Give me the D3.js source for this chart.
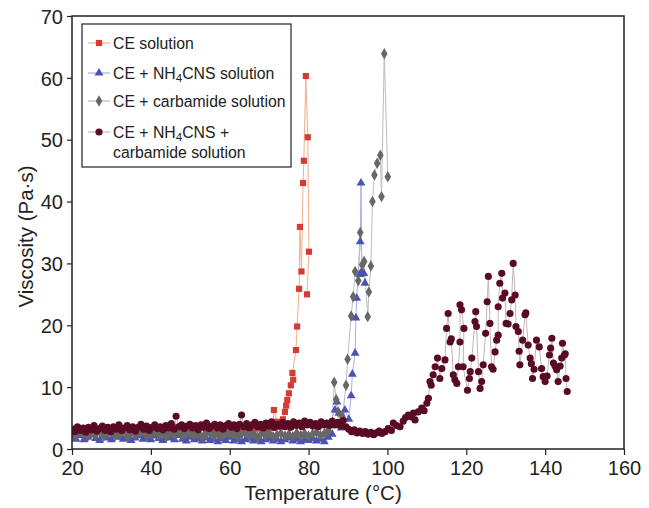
<!DOCTYPE html>
<html>
<head>
<meta charset="utf-8">
<script src="https://cdn.jsdelivr.net/npm/d3@7"></script>
<style>
  html, body { margin: 0; padding: 0; background: #fff; }
  svg { display: block; font-family: "Liberation Sans", Arial, sans-serif; }
</style>
</head>
<body>
<svg id="chart" width="649" height="508"></svg>
<script>
// Viscosity vs temperature, [temperature °C, viscosity Pa·s]
const ceSolution = [
  [20,2.9],[21,3.3],[22,2.6],[23,3.1],[24,3.4],[25,2.8],[26,3.2],[27,2.7],[28,3.5],[29,3.0],
  [30,2.8],[31,3.3],[32,3.6],[33,2.9],[34,3.1],[35,2.7],[36,3.4],[37,3.0],[38,3.2],[39,2.8],
  [40,3.5],[41,3.1],[42,2.9],[43,3.3],[44,2.7],[45,3.2],[46,3.6],[47,2.9],[48,3.1],[49,3.4],
  [50,2.8],[51,3.2],[52,3.0],[53,3.5],[54,2.9],[55,3.3],[56,3.1],[57,2.7],[58,3.4],[59,3.0],
  [60,3.6],[61,3.2],[62,2.9],[63,3.4],[64,3.1],[65,3.7],[66,3.0],[67,3.3],[68,3.5],[69,3.1],
  [70,3.8],[71,3.4],[71.2,6.3],[72,4.4],[72.8,3.6],[73.5,4.8],[74,6.0],[74.3,7.0],[74.6,7.9],
  [75,9.0],[75.5,10.3],[76.1,11.2],[75.9,12.3],[76.8,16.0],[77.1,19.8],[77.6,25.9],[77.8,35.9],
  [78.2,28.7],[78.6,43.0],[78.8,46.6],[79.3,60.3],[79.8,50.4],[80.1,31.9],[79.6,25.0]
];

const ceNH4CNS = [
  [20,2.0],[21,1.6],[22,2.2],[23,1.5],[24,1.9],[25,2.3],[26,1.7],[27,1.4],[28,2.1],[29,1.8],
  [30,1.5],[31,2.2],[32,1.9],[33,1.6],[34,2.0],[35,1.4],[36,1.8],[37,2.2],[38,1.6],[39,1.9],
  [40,1.5],[41,2.1],[42,1.7],[43,1.4],[44,2.0],[45,1.8],[46,1.5],[47,2.2],[48,1.6],[49,1.3],
  [50,1.9],[51,1.5],[52,1.7],[53,1.3],[54,1.8],[55,1.4],[56,1.6],[57,1.2],[58,1.7],[59,1.4],
  [60,1.9],[61,1.3],[62,1.6],[63,1.2],[64,1.5],[65,1.8],[66,1.3],[67,1.6],[68,1.2],[69,1.5],
  [70,1.7],[71,1.3],[72,1.6],[73,1.2],[74,1.5],[75,1.8],[76,1.3],[77,1.6],[78,1.2],[79,1.5],
  [80,1.4],[81,1.7],[82,1.3],[83,1.6],[84,1.2],[85,1.9],[86,2.4],[84.6,2.6],[86.7,6.3],
  [87.2,7.6],[87.7,5.8],[88.3,3.4],[89.2,6.3],[90.2,4.8],[90.8,8.6],[91.1,12.1],[91.8,15.5],
  [92.0,21.2],[92.2,24.4],[93.1,33.5],[93.3,43.0],[93.5,28.7],[93.0,28.2],[94.0,28.4],[94.3,26.8]
];

const ceCarbamide = [
  [20,2.5],[21,2.2],[22,2.8],[23,2.4],[24,2.0],[25,2.6],[26,2.3],[27,2.9],[28,2.1],[29,2.5],
  [30,2.7],[31,2.2],[32,2.4],[33,2.8],[34,2.0],[35,2.6],[36,2.3],[37,2.5],[38,2.9],[39,2.1],
  [40,2.4],[41,2.7],[42,2.2],[43,2.5],[44,2.0],[45,2.6],[46,2.3],[47,2.8],[48,2.1],[49,2.4],
  [50,2.6],[51,2.2],[52,2.5],[53,1.9],[54,2.3],[55,2.7],[56,2.1],[57,2.4],[58,2.0],[59,2.6],
  [60,2.3],[61,2.5],[62,2.0],[63,2.4],[64,2.7],[65,2.1],[66,2.4],[67,1.9],[68,2.5],[69,2.2],
  [70,2.6],[71,2.0],[72,2.3],[73,2.5],[74,2.1],[75,2.4],[76,2.0],[77,2.6],[78,2.2],[79,2.5],
  [80,2.1],[81,2.4],[82,2.7],[83,2.2],[84,2.5],[85,3.0],[86,4.2],[86.5,10.8],[87,8.0],
  [87.5,6.0],[88,4.0],[88.6,5.2],[89.5,10.3],[89.9,14.5],[90.8,21.5],[91.3,24.6],[91.8,28.7],
  [92.6,27.2],[93.1,35.0],[93.6,29.8],[94.1,30.3],[95.0,21.4],[95.3,25.4],[95.8,29.6],
  [96.2,40.0],[96.7,44.3],[97.4,46.2],[98.2,47.5],[98.5,40.8],[99.2,63.9],[100.1,44.0]
];

const ceNH4CNSCarbamide = [
  [20,3.2],[20.7,2.8],[21.4,3.6],[22.1,3.0],[22.8,3.4],[23.5,2.7],[24.2,3.5],[24.9,3.1],
  [25.6,3.8],[26.3,2.9],[27,3.3],[27.7,3.7],[28.4,3.0],[29.1,3.5],[29.8,2.8],[30.5,3.6],
  [31.2,3.2],[31.9,3.9],[32.6,3.0],[33.3,3.4],[34,3.8],[34.7,3.1],[35.4,3.6],[36.1,2.9],
  [36.8,3.5],[37.5,4.0],[38.2,3.2],[38.9,3.7],[39.6,3.0],[40.3,3.5],[41,3.9],[41.7,3.3],
  [42.4,3.6],[43.1,3.1],[43.8,3.8],[44.5,3.4],[45.2,4.1],[45.9,3.2],[46.4,5.3],[47.1,3.6],
  [47.8,3.9],[48.5,3.3],[49.2,3.7],[49.9,4.0],[50.6,3.4],[51.3,3.8],[52,3.1],[52.7,3.9],
  [53.4,3.5],[54.1,4.2],[54.8,3.3],[55.5,3.7],[56.2,4.0],[56.9,3.4],[57.6,3.9],[58.3,3.2],
  [59,3.8],[59.7,4.1],[60.4,3.5],[61.1,3.9],[61.8,3.3],[62.5,4.0],[63,5.5],[63.6,3.6],
  [64.3,4.1],[65,3.4],[65.7,3.9],[66.4,4.3],[67.1,3.6],[67.8,4.0],[68.5,3.4],[69.2,4.2],
  [69.9,3.7],[70.6,4.4],[71.3,3.5],[72,4.0],[72.7,3.7],[73.4,4.3],[74.1,3.6],[74.8,4.1],
  [75.5,3.5],[76.2,4.4],[76.9,3.8],[77.6,4.2],[78.3,3.6],[79,4.5],[79.7,3.9],[80.4,4.3],
  [81.1,3.7],[81.8,4.1],[82.5,3.6],[83.2,4.4],[83.9,3.9],[84.6,4.2],[85.3,3.8],[86,4.5],
  [86.7,3.9],[87.4,4.3],[88.1,3.7],[88.8,4.6],[89.5,3.6],[90.2,3.2],[90.9,2.8],[91.6,3.1],
  [92.3,2.6],[93,2.9],[93.7,2.5],[94.4,2.8],[95.1,2.4],[95.8,2.7],[96.5,2.3],[97.2,2.6],
  [97.9,2.9],[98.6,2.5],[99.4,2.8],[100.2,3.3],[101,3.0],[101.5,4.2],[102.3,3.8],[103.2,3.6],
  [104,4.5],[104.6,5.1],[105.3,5.5],[106,5.2],[106.6,5.8],[107,4.7],[107.8,6.0],[108.7,6.6],
  [109.3,6.2],[110,7.4],[110.4,8.2],[110.8,10.9],[111.1,10.3],[111.6,12.0],[112.1,13.3],
  [112.7,14.7],[113.3,11.4],[113.8,13.0],[114.6,14.4],[115,19.5],[115.4,21.9],[115.9,17.3],
  [116.2,17.8],[116.7,12.0],[117.1,11.2],[117.6,10.6],[118,13.3],[118.4,17.3],[118.4,23.3],
  [118.8,22.5],[119.4,19.5],[119.2,13.3],[120.3,9.5],[120.8,11.4],[121,12.5],[121.4,14.7],
  [122.2,20.6],[122.4,22.2],[122.6,19.8],[123.1,12.5],[123.5,9.8],[123.9,10.9],[124.3,13.6],
  [124.9,18.7],[125.3,23.8],[125.6,27.9],[126,20.3],[126.4,13.3],[126.8,12.9],[127.3,15.7],
  [127.7,17.6],[128.1,18.4],[128.1,23.0],[128.5,26.8],[129,28.4],[129.2,24.4],[129.8,25.2],
  [130.1,20.3],[130.6,20.2],[131.1,21.9],[131.5,24.1],[131.9,30.0],[132.4,24.9],[132.6,19.8],
  [133.2,19.0],[133.4,15.8],[133.6,13.6],[134.3,17.6],[134.9,21.7],[135.1,22.0],[135.7,16.8],
  [136.2,14.7],[136.5,13.8],[136.8,11.4],[137.2,12.9],[137.8,17.6],[138.5,16.5],[139.1,13.0],
  [139.5,11.7],[140,10.9],[140.5,11.8],[141.1,15.2],[141.4,16.3],[141.7,17.9],[142.1,13.9],
  [142.5,13.4],[142.9,12.8],[143.3,10.9],[143.8,13.4],[144.2,14.7],[144.4,17.1],[144.9,15.2],
  [145.1,15.4],[145.3,11.4],[145.6,9.3]
];

const xTicks = [20, 40, 60, 80, 100, 120, 140, 160];
const yTicks = [0, 10, 20, 30, 40, 50, 60, 70];

const series = [
  { name: "CE solution", data: ceSolution, symbol: d3.symbolSquare, size: 38, fill: "#d63a34", line: "#f0b08a" },
  { name: "CE + NH4CNS solution", data: ceNH4CNS, symbol: d3.symbolTriangle, size: 34, fill: "#4b52b4", line: "#a9aee2" },
  { name: "CE + carbamide solution", data: ceCarbamide, symbol: d3.symbolDiamond, size: 38, fill: "#676767", line: "#bdbdbd" },
  { name: "CE + NH4CNS + carbamide solution", data: ceNH4CNSCarbamide, symbol: d3.symbolCircle, size: 40, fill: "#5a0b24", line: "#c4b4b8" }
];

const svg = d3.select("#chart");
const margin = { left: 72, right: 25, top: 16, bottom: 59 };
const W = 649, H = 508;

const x = d3.scaleLinear().domain([20, 160]).range([margin.left, W - margin.right]);
const y = d3.scaleLinear().domain([0, 70]).range([H - margin.bottom, margin.top]);

// clip marks to plot area
svg.append("defs").append("clipPath").attr("id", "plot-clip")
  .append("rect")
  .attr("x", margin.left).attr("y", margin.top)
  .attr("width", x(160) - x(20)).attr("height", y(0) - y(70));

const plot = svg.append("g").attr("clip-path", "url(#plot-clip)");

const line = d3.line().x(d => x(d[0])).y(d => y(d[1]));

series.forEach(s => {
  plot.append("path")
    .datum(s.data)
    .attr("fill", "none")
    .attr("stroke", s.line)
    .attr("stroke-width", 1)
    .attr("d", line);
});

series.forEach(s => {
  const sym = d3.symbol().type(s.symbol).size(s.size);
  plot.append("g").selectAll("path")
    .data(s.data)
    .join("path")
    .attr("transform", d => `translate(${x(d[0])},${y(d[1])})`)
    .attr("d", sym)
    .attr("fill", s.fill);
});

// axes
const tickFont = 20;
const xAxis = d3.axisBottom(x).tickValues(xTicks).tickSize(6).tickSizeOuter(0);
const yAxis = d3.axisLeft(y).tickValues(yTicks).tickSize(5).tickSizeOuter(0);

const gx = svg.append("g").attr("transform", `translate(0,${y(0)})`).call(xAxis);
gx.select(".domain").remove();
gx.selectAll("line").attr("stroke", "#222").attr("stroke-width", 1.2);
gx.selectAll("text").attr("font-size", tickFont).attr("fill", "#222").attr("y", 12).attr("dy", "0.71em");

const gy = svg.append("g").attr("transform", `translate(${x(20)},0)`).call(yAxis);
gy.select(".domain").remove();
gy.selectAll("line").attr("stroke", "#222").attr("stroke-width", 1.2);
gy.selectAll("text").attr("font-size", tickFont).attr("fill", "#222").attr("x", -9).attr("dy", "0.36em");

// frame
svg.append("rect")
  .attr("x", x(20)).attr("y", y(70))
  .attr("width", x(160) - x(20)).attr("height", y(0) - y(70))
  .attr("fill", "none").attr("stroke", "#222").attr("stroke-width", 1.5);

// axis titles
svg.append("text")
  .attr("x", 323).attr("y", 500)
  .attr("text-anchor", "middle").attr("font-size", 20.5).attr("fill", "#222")
  .text("Temperature (°C)");

svg.append("text")
  .attr("transform", `translate(33,${(y(0) + y(70)) / 2 + 4}) rotate(-90)`)
  .attr("text-anchor", "middle").attr("font-size", 20.5).attr("fill", "#222")
  .text("Viscosity (Pa·s)");

// legend
const lg = svg.append("g");
lg.append("rect")
  .attr("x", 82).attr("y", 24).attr("width", 209).attr("height", 143)
  .attr("fill", "#fff").attr("stroke", "#222").attr("stroke-width", 1.2);

const rowsY = [43, 73, 101, 132];
series.forEach((s, i) => {
  const cy = rowsY[i];
  lg.append("line").attr("x1", 88).attr("x2", 110).attr("y1", cy).attr("y2", cy)
    .attr("stroke", s.line).attr("stroke-width", 1.2);
  lg.append("path")
    .attr("transform", `translate(99,${cy})`)
    .attr("d", d3.symbol().type(s.symbol).size(s.size)())
    .attr("fill", s.fill);
});

const labelFont = 15.8;
function addLabel(yy, parts) {
  const t = lg.append("text").attr("x", 113).attr("y", yy).attr("font-size", labelFont)
    .attr("fill", "#222").attr("dominant-baseline", "central");
  parts.forEach(p => {
    const ts = t.append("tspan").text(p.t);
    if (p.sub) ts.attr("font-size", 11.5).attr("dy", 5);
    if (p.back) ts.attr("dy", -5);
  });
}
addLabel(rowsY[0], [{ t: "CE solution" }]);
addLabel(rowsY[1], [{ t: "CE + NH" }, { t: "4", sub: true }, { t: "CNS solution", back: true }]);
addLabel(rowsY[2], [{ t: "CE + carbamide solution" }]);
addLabel(rowsY[3], [{ t: "CE + NH" }, { t: "4", sub: true }, { t: "CNS +", back: true }]);
addLabel(rowsY[3] + 20, [{ t: "carbamide solution" }]);
</script>
</body>
</html>
